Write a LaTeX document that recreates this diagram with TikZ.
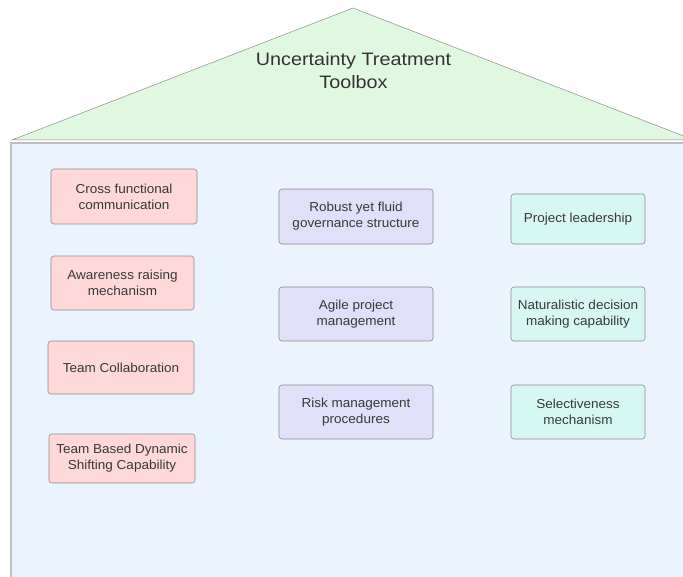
\documentclass[tikz,border=0pt]{standalone}
\usepackage{fontspec}
\setmainfont{Liberation Sans}
\newfontfamily\boxfont[FakeStretch=1.04]{Liberation Sans}
\newfontfamily\titlefont[FakeStretch=1.1]{Liberation Sans}
\begin{document}
\begin{tikzpicture}[x=1pt,y=-1pt,
  box/.style={draw=black!45, line width=0.6pt, rounded corners=3pt, align=center,
    inner sep=0pt, text=black!78, font=\boxfont\fontsize{13}{16}\selectfont},
  pinkbox/.style={box, fill=pinkc},
  lavbox/.style={box, fill=lavc},
  mintbox/.style={box, fill=mintc}]
\definecolor{bodyc}{HTML}{EBF3FE}
\definecolor{roofc}{HTML}{E0F8E0}
\definecolor{pinkc}{HTML}{FFD9D9}
\definecolor{lavc}{HTML}{E0E0FB}
\definecolor{mintc}{HTML}{D7F8F2}
\useasboundingbox (0,0) rectangle (683,577);
\begin{scope}
\clip (0,0) rectangle (683,577);
\fill[bodyc] (11,142) rectangle (700,600);
\draw[black!25, line width=1.5pt] (11,600) -- (11,143) [rounded corners=2pt] -- (700,143);
\filldraw[fill=roofc, draw=black!45, line width=0.5pt] (12,140) -- (353,8) -- (694,140) -- cycle;
\end{scope}
\node[text=black!80, align=center, font=\titlefont\fontsize{18}{23}\selectfont] (title) at (353.5,71) {Uncertainty Treatment\\Toolbox};
% left column
\node[pinkbox, minimum width=146pt, minimum height=55pt] (c1) at (124,196.5) {Cross functional\\communication};
\node[pinkbox, minimum width=143pt, minimum height=54pt] (c2) at (122.5,283) {Awareness raising\\mechanism};
\node[pinkbox, minimum width=146pt, minimum height=53pt] (c3) at (121,367.5) {Team Collaboration};
\node[pinkbox, minimum width=146pt, minimum height=49pt] (c4) at (122,458.5) {Team Based Dynamic\\Shifting Capability};
% middle column
\node[lavbox, minimum width=154pt, minimum height=55pt] (m1) at (356,216.5) {Robust yet fluid\\governance structure};
\node[lavbox, minimum width=154pt, minimum height=54pt] (m2) at (356,314) {Agile project\\management};
\node[lavbox, minimum width=154pt, minimum height=54pt] (m3) at (356,412) {Risk management\\procedures};
% right column
\node[mintbox, minimum width=134pt, minimum height=50pt] (r1) at (578,219) {Project leadership};
\node[mintbox, minimum width=134pt, minimum height=54pt] (r2) at (578,314) {Naturalistic decision\\making capability};
\node[mintbox, minimum width=134pt, minimum height=54pt] (r3) at (578,412) {Selectiveness\\mechanism};
\end{tikzpicture}
\end{document}
